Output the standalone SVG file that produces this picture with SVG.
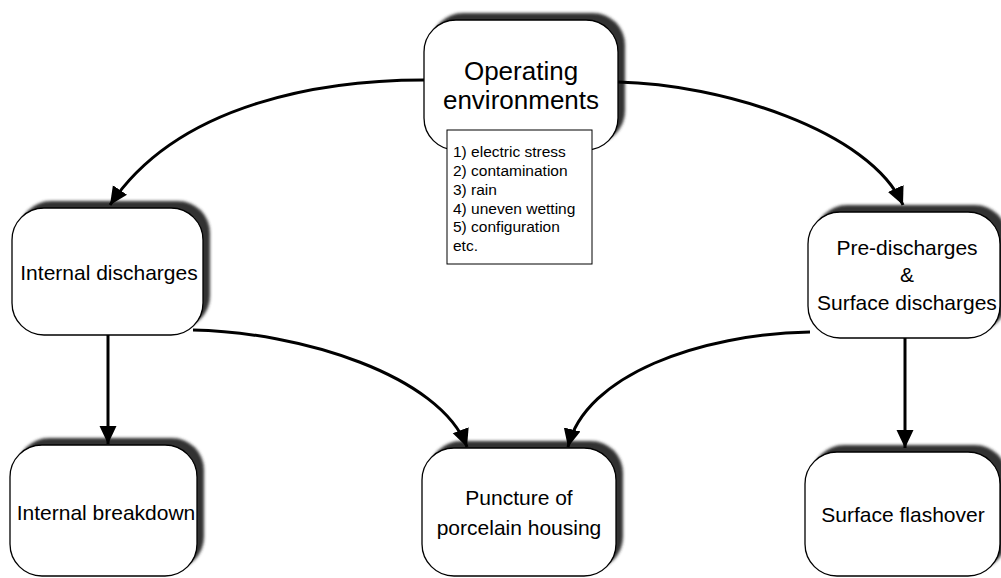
<svg xmlns="http://www.w3.org/2000/svg" width="1001" height="578" viewBox="0 0 1001 578">
<style>
  .box { fill: #ffffff; stroke: #000; stroke-width: 1.3; }
  .shadow { fill: #333333; filter: url(#blur); }
  .lbl { font-family: "Liberation Sans", Arial, sans-serif; font-size: 21px; fill: #000; text-anchor: middle; }
  .big { font-size: 26px; }
  .list { font-family: "Liberation Sans", Arial, sans-serif; font-size: 15.5px; fill: #000; }
  .conn { fill: none; stroke: #000; stroke-width: 3; marker-end: url(#arrow); }
</style>
<defs>
  <filter id="blur" x="-10%" y="-10%" width="120%" height="120%">
    <feGaussianBlur stdDeviation="1.6"/>
  </filter>
  <marker id="arrow" markerUnits="userSpaceOnUse" markerWidth="20" markerHeight="18" refX="18" refY="8.5" orient="auto">
    <path d="M0,0 L18,8.5 L0,17 z" fill="#000"/>
  </marker>
</defs>
<rect width="1001" height="578" fill="#fff"/>

<g id="node-operating">
  <rect class="shadow" x="431" y="13" width="194" height="130" rx="32"/>
  <rect class="box" x="424" y="20" width="194" height="130" rx="32"/>
  <text class="lbl big" x="521" y="80">Operating</text>
  <text class="lbl big" x="521" y="109">environments</text>
</g>

<g id="node-conditions">
  <rect x="447" y="130" width="145" height="134" fill="#fff" stroke="#000" stroke-width="1"/>
  <text class="list" x="453" y="157">1) electric stress</text>
  <text class="list" x="453" y="176">2) contamination</text>
  <text class="list" x="453" y="195">3) rain</text>
  <text class="list" x="453" y="214">4) uneven wetting</text>
  <text class="list" x="453" y="232">5) configuration</text>
  <text class="list" x="453" y="251">etc.</text>
</g>

<g id="node-internal-discharges">
  <rect class="shadow" x="19" y="201" width="191" height="127" rx="32"/>
  <rect class="box" x="12" y="208" width="191" height="127" rx="32"/>
  <text class="lbl" x="109" y="280">Internal discharges</text>
</g>

<g id="node-surface-discharges">
  <rect class="shadow" x="815" y="205" width="192" height="126" rx="32"/>
  <rect class="box" x="808" y="212" width="192" height="126" rx="32"/>
  <text class="lbl" x="907" y="255">Pre-discharges</text>
  <text class="lbl" x="907" y="282">&amp;</text>
  <text class="lbl" x="907" y="310">Surface discharges</text>
</g>

<g id="node-internal-breakdown">
  <rect class="shadow" x="17" y="438" width="187" height="131" rx="32"/>
  <rect class="box" x="10" y="445" width="187" height="131" rx="32"/>
  <text class="lbl" x="106" y="520">Internal breakdown</text>
</g>

<g id="node-puncture">
  <rect class="shadow" x="429" y="441" width="194" height="128" rx="32"/>
  <rect class="box" x="422" y="448" width="194" height="128" rx="32"/>
  <text class="lbl" x="519" y="505">Puncture of</text>
  <text class="lbl" x="519" y="535">porcelain housing</text>
</g>

<g id="node-flashover">
  <rect class="shadow" x="812" y="445" width="195" height="124" rx="32"/>
  <rect class="box" x="805" y="452" width="195" height="124" rx="32"/>
  <text class="lbl" x="903" y="522">Surface flashover</text>
</g>

<g id="connectors">
  <path class="conn" d="M424,80 C330,80 180,100 110,205"/>
  <path class="conn" d="M618,82 C720,84 870,130 903,205"/>
  <path class="conn" d="M193,330 C300,332 440,375 467,447"/>
  <path class="conn" d="M810,332 C700,334 585,375 568,447"/>
  <path class="conn" d="M108,335 L108,444"/>
  <path class="conn" d="M905,338 L905,448"/>
</g>
</svg>
